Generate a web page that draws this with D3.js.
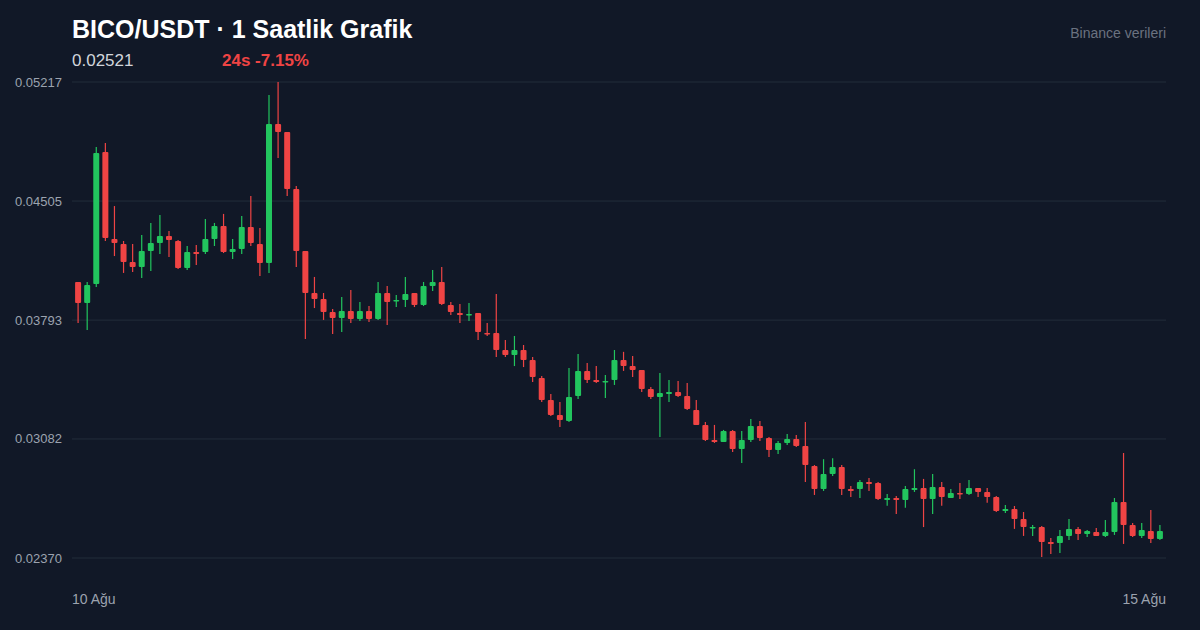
<!DOCTYPE html>
<html>
<head>
<meta charset="utf-8">
<script src="https://cdn.jsdelivr.net/npm/d3@7"></script>
<style>
  body { margin: 0; background: #111827; }
  svg { display: block; font-family: "Liberation Sans", Arial, Helvetica, sans-serif; }
</style>
</head>
<body>
<svg id="grafik" width="1200" height="630"></svg>
<script>
// saatlik mumlar, 10 Ağu - 15 Ağu
acilis = [0.04021,0.03895,0.04009,0.04798,0.04278,0.04248,0.04140,0.04111,0.04206,0.04254,
  0.04296,0.04266,0.04105,0.04200,0.04200,0.04278,0.04356,0.04200,0.04218,0.04350,
  0.04248,0.04134,0.04966,0.04918,0.04577,0.04206,0.03955,0.03919,0.03841,0.03806,
  0.03847,0.03800,0.03847,0.03800,0.03955,0.03907,0.03913,0.03955,0.03883,0.03997,
  0.04021,0.03883,0.03835,0.03823,0.03835,0.03716,0.03716,0.03614,0.03584,0.03614,
  0.03554,0.03447,0.03315,0.03225,0.03190,0.03339,0.03489,0.03435,0.03423,0.03435,
  0.03554,0.03518,0.03495,0.03381,0.03333,0.03351,0.03363,0.03339,0.03255,0.03166,
  0.03076,0.03064,0.03130,0.03022,0.03076,0.03160,0.03088,0.03016,0.03058,0.03082,
  0.03040,0.02920,0.02783,0.02872,0.02914,0.02783,0.02783,0.02825,0.02819,0.02717,
  0.02729,0.02717,0.02777,0.02789,0.02723,0.02795,0.02729,0.02759,0.02753,0.02789,
  0.02765,0.02735,0.02651,0.02663,0.02604,0.02549,0.02555,0.02466,0.02460,0.02502,
  0.02544,0.02514,0.02526,0.02502,0.02526,0.02705,0.02567,0.02502,0.02532,0.02484];
yuksek = [0.04021,0.04021,0.04828,0.04852,0.04475,0.04266,0.04248,0.04302,0.04374,0.04422,
  0.04326,0.04272,0.04236,0.04242,0.04398,0.04374,0.04428,0.04278,0.04416,0.04535,
  0.04344,0.05139,0.05217,0.04918,0.04595,0.04206,0.04051,0.03955,0.03859,0.03931,
  0.03973,0.03901,0.03877,0.04021,0.03997,0.03943,0.04051,0.03955,0.04021,0.04093,
  0.04111,0.03901,0.03889,0.03895,0.03835,0.03776,0.03949,0.03674,0.03698,0.03644,
  0.03572,0.03459,0.03351,0.03303,0.03506,0.03590,0.03536,0.03518,0.03465,0.03614,
  0.03603,0.03578,0.03495,0.03393,0.03477,0.03435,0.03429,0.03417,0.03315,0.03184,
  0.03166,0.03136,0.03136,0.03130,0.03201,0.03190,0.03094,0.03070,0.03112,0.03106,
  0.03184,0.02926,0.02961,0.02967,0.02926,0.02801,0.02837,0.02849,0.02825,0.02753,
  0.02741,0.02801,0.02901,0.02843,0.02872,0.02825,0.02783,0.02819,0.02837,0.02789,
  0.02789,0.02741,0.02687,0.02681,0.02645,0.02567,0.02561,0.02490,0.02537,0.02604,
  0.02555,0.02537,0.02549,0.02598,0.02729,0.02998,0.02579,0.02579,0.02657,0.02567];
dusuk = [0.03776,0.03734,0.03991,0.04266,0.04176,0.04075,0.04081,0.04045,0.04087,0.04188,
  0.04170,0.04099,0.04093,0.04122,0.04188,0.04236,0.04194,0.04158,0.04188,0.04236,
  0.04057,0.04075,0.04762,0.04535,0.04111,0.03680,0.03865,0.03794,0.03710,0.03722,
  0.03776,0.03788,0.03782,0.03794,0.03764,0.03871,0.03871,0.03871,0.03877,0.03967,
  0.03883,0.03823,0.03776,0.03788,0.03674,0.03698,0.03572,0.03572,0.03518,0.03512,
  0.03423,0.03303,0.03219,0.03154,0.03184,0.03321,0.03417,0.03417,0.03327,0.03405,
  0.03489,0.03453,0.03363,0.03321,0.03094,0.03303,0.03333,0.03255,0.03166,0.03070,
  0.03058,0.03064,0.03004,0.02938,0.03064,0.03070,0.02974,0.02992,0.03046,0.03034,
  0.02825,0.02747,0.02771,0.02860,0.02747,0.02735,0.02729,0.02771,0.02717,0.02683,
  0.02633,0.02671,0.02765,0.02555,0.02633,0.02683,0.02729,0.02723,0.02747,0.02735,
  0.02701,0.02645,0.02639,0.02544,0.02502,0.02502,0.02376,0.02394,0.02400,0.02478,
  0.02478,0.02496,0.02502,0.02496,0.02508,0.02454,0.02496,0.02490,0.02460,0.02478];
kapanis = [0.03895,0.04003,0.04792,0.04284,0.04254,0.04140,0.04111,0.04206,0.04254,0.04296,
  0.04272,0.04105,0.04200,0.04188,0.04278,0.04356,0.04200,0.04218,0.04350,0.04254,
  0.04134,0.04966,0.04918,0.04577,0.04206,0.03955,0.03919,0.03841,0.03806,0.03847,
  0.03800,0.03847,0.03800,0.03955,0.03901,0.03913,0.03949,0.03883,0.03997,0.04021,
  0.03889,0.03841,0.03823,0.03829,0.03722,0.03710,0.03614,0.03584,0.03614,0.03554,
  0.03453,0.03315,0.03225,0.03196,0.03333,0.03489,0.03435,0.03423,0.03429,0.03554,
  0.03518,0.03495,0.03381,0.03333,0.03357,0.03363,0.03339,0.03261,0.03166,0.03076,
  0.03064,0.03130,0.03022,0.03076,0.03160,0.03088,0.03016,0.03058,0.03082,0.03040,
  0.02926,0.02783,0.02872,0.02914,0.02783,0.02771,0.02825,0.02813,0.02723,0.02729,
  0.02717,0.02783,0.02789,0.02723,0.02795,0.02735,0.02759,0.02753,0.02789,0.02765,
  0.02735,0.02651,0.02663,0.02604,0.02555,0.02555,0.02466,0.02454,0.02502,0.02544,
  0.02514,0.02532,0.02502,0.02526,0.02705,0.02567,0.02502,0.02537,0.02484,0.02532];
fiyatEtiketleri = [0.05217, 0.04505, 0.03793, 0.03082, 0.02370];
tarihEtiketleri = ["10 Ağu", "15 Ağu"];

var svg = d3.select("#grafik");
var sol = 72, sag = 1166, ust = 82, alt = 558;

var x = d3.scaleBand().domain(d3.range(acilis.length)).range([sol, sag]).padding(0.34);
var y = d3.scaleLinear().domain([0.02370, 0.05217]).range([alt, ust]);

// izgara
svg.append("g").selectAll("line").data(fiyatEtiketleri).join("line")
  .attr("x1", sol).attr("x2", sag)
  .attr("y1", d => y(d)).attr("y2", d => y(d))
  .attr("stroke", "#232d3b").attr("stroke-width", 1);

svg.append("g").selectAll("text").data(fiyatEtiketleri).join("text")
  .attr("x", 15).attr("y", d => y(d) + 4.5)
  .attr("fill", "#9ca3af").attr("font-size", 13)
  .text(d => d.toFixed(5));

// mumlar
var mumlar = svg.append("g").selectAll("g").data(acilis).join("g");
var renk = i => kapanis[i] >= acilis[i] ? "#22c55e" : "#ef4444";

mumlar.append("line")
  .attr("x1", (d, i) => x(i) + x.bandwidth() / 2)
  .attr("x2", (d, i) => x(i) + x.bandwidth() / 2)
  .attr("y1", (d, i) => y(yuksek[i]))
  .attr("y2", (d, i) => y(dusuk[i]))
  .attr("stroke", (d, i) => renk(i)).attr("stroke-width", 1.2);

mumlar.append("rect")
  .attr("x", (d, i) => x(i))
  .attr("width", x.bandwidth())
  .attr("y", (d, i) => y(Math.max(acilis[i], kapanis[i])))
  .attr("height", (d, i) => Math.max(1.5, Math.abs(y(acilis[i]) - y(kapanis[i]))))
  .attr("rx", 1)
  .attr("fill", (d, i) => renk(i));

// tarih ekseni
svg.append("text").attr("x", sol).attr("y", 604).attr("fill", "#9ca3af")
  .attr("font-size", 14).text(tarihEtiketleri[0]);
svg.append("text").attr("x", sag).attr("y", 604).attr("fill", "#9ca3af")
  .attr("font-size", 14).attr("text-anchor", "end").text(tarihEtiketleri[1]);

// baslik
svg.append("text").attr("x", sol).attr("y", 38).attr("fill", "#ffffff")
  .attr("font-size", 25).attr("font-weight", 700).text("BICO/USDT · 1 Saatlik Grafik");
svg.append("text").attr("x", sol).attr("y", 66).attr("fill", "#d1d5db")
  .attr("font-size", 17).text("0.02521");
svg.append("text").attr("x", 222).attr("y", 66).attr("fill", "#ef4444")
  .attr("font-size", 17).attr("font-weight", 700).text("24s -7.15%");
svg.append("text").attr("x", sag).attr("y", 38).attr("fill", "#6b7280")
  .attr("font-size", 14).attr("text-anchor", "end").text("Binance verileri");
</script>
</body>
</html>
